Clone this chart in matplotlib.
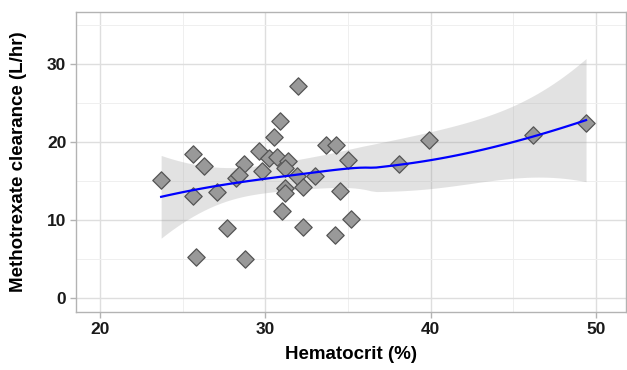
import numpy as np
import matplotlib.pyplot as plt

# hematocrit (%) and methotrexate clearance (L/hr)
hematocrit = [23.7, 25.6, 26.3, 25.6, 27.1, 27.7, 25.8, 28.8, 28.7, 28.2,
              28.4, 29.6, 29.8, 30.2, 30.5, 30.9, 30.7, 31.4, 31.2, 31.2,
              31.2, 31.0, 32.0, 31.9, 32.3, 32.3, 33.0, 33.7, 34.3, 35.0,
              34.5, 34.2, 35.2, 38.1, 39.9, 46.2, 49.4]
clearance = [15.1, 18.5, 16.9, 13.1, 13.6, 9.0, 5.3, 5.0, 17.2, 15.4,
             15.8, 18.9, 16.3, 18.0, 20.6, 22.7, 18.1, 17.6, 16.6, 14.1,
             13.4, 11.2, 27.2, 15.7, 14.2, 9.1, 15.7, 19.6, 19.6, 17.7,
             13.7, 8.1, 10.1, 17.2, 20.2, 20.9, 22.4]

x = np.array(hematocrit)
y = np.array(clearance)
n = len(x)


def loess_row(x0, span=1.0, deg=2):
    # one row of the loess smoother matrix (tricube weights, local quadratic)
    d = np.abs(x - x0)
    q = int(np.floor(n * span))
    h = np.sort(d)[q - 1]
    w = np.clip(1 - (d / h) ** 3, 0, None) ** 3
    X = np.column_stack([(x - x0) ** k for k in range(deg + 1)])
    XtW = X.T * w
    return np.linalg.solve(XtW @ X, XtW)[0]


L = np.array([loess_row(v) for v in x])
IL = np.eye(n) - L
delta1 = np.trace(IL.T @ IL)
s = np.sqrt(np.sum((IL @ y) ** 2) / delta1)
t_crit = 2.03  # t(0.975), df ~ 33

xs = np.linspace(x.min(), x.max(), 80)
Ls = np.array([loess_row(v) for v in xs])
ys = Ls @ y
se = s * np.sqrt(np.sum(Ls ** 2, axis=1))

plt.rcParams['font.family'] = ['Liberation Sans', 'DejaVu Sans']

fig = plt.figure(figsize=(6.27, 3.70), dpi=100)
ax = fig.add_axes([0.1212, 0.157, 0.8768, 0.811])

ax.fill_between(xs, ys - t_crit * se, ys + t_crit * se, color='#999999',
                alpha=0.28, linewidth=0, zorder=2)
ax.scatter(x, y, marker='D', s=78, facecolor='#999999', edgecolor='#555555',
           linewidth=0.9, zorder=3)
ax.plot(xs, ys, color='#0000FF', linewidth=1.6, zorder=4)

ax.set_xlim(18.55, 51.8)
ax.set_ylim(-1.8, 36.7)
ax.set_xticks([20, 30, 40, 50])
ax.set_yticks([0, 10, 20, 30])
ax.set_xticks([25, 35, 45], minor=True)
ax.set_yticks([5, 15, 25, 35], minor=True)
ax.grid(True, which='major', color='#DEDEDE', linewidth=1.0, zorder=0)
ax.grid(True, which='minor', color='#EFEFEF', linewidth=0.7, zorder=0)
ax.set_axisbelow(True)

for sp in ax.spines.values():
    sp.set_color('#B3B3B3')
    sp.set_linewidth(1.0)

ax.tick_params(which='major', length=4, color='#B3B3B3', width=1.0,
               labelsize=12.5, labelcolor='#1A1A1A', pad=3)
ax.tick_params(which='minor', length=0)
for lab in ax.get_xticklabels() + ax.get_yticklabels():
    lab.set_fontweight('bold')

ax.set_xlabel("Hematocrit (%)", fontsize=13.5, fontweight='bold', labelpad=7)
ax.set_ylabel("Methotrexate clearance (L/hr)", fontsize=13.5, fontweight='bold',
              labelpad=14)

fig.savefig("out.png", dpi=100)
